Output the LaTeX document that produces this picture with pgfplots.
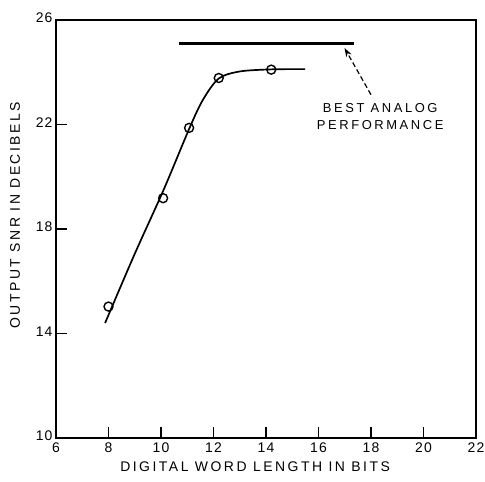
\documentclass[border=0pt]{standalone}
\usepackage{pgfplots}
\pgfplotsset{compat=1.18}
\usepackage{fontspec}
\setmainfont{Liberation Sans}
\newfontfamily\labfont[LetterSpace=18]{Liberation Sans}
\newfontfamily\notefont[LetterSpace=20]{Liberation Sans}
\newfontfamily\tickfont[LetterSpace=8]{Liberation Sans}
\usetikzlibrary{arrows.meta}

\begin{document}
\begin{tikzpicture}
\useasboundingbox (-56bp,-44bp) rectangle (429bp,438bp);
\begin{axis}[
  scale only axis, width=420bp, height=418bp,
  xmin=6, xmax=22, ymin=10, ymax=26,
  xtick={6,8,...,22}, ytick={10,14,18,22,26},
  xtick pos=bottom, ytick pos=left, tick align=inside,
  major tick length=11bp,
  axis line style={line width=1.6pt},
  every tick/.style={line width=1.4pt, black},
  /pgf/number format/assume math mode=true,
  tick label style={font=\fontsize{14}{14}\selectfont\tickfont},
  xticklabel style={yshift=-1bp},
  yticklabel style={yshift=2bp},
  xlabel={DIGITAL WORD LENGTH IN BITS},
  ylabel={OUTPUT SNR IN DECIBELS},
  label style={font=\fontsize{14}{14}\selectfont\labfont},
  xlabel style={at={(axis description cs:0.474,-0.0694)}, anchor=center},
  ylabel style={at={(axis description cs:-0.0976,0.533)}, anchor=center},
]
% best analog performance level
\addplot[line width=2.3pt] coordinates {(10.67,25.1) (17.35,25.1)};
\addplot[dashed, dash pattern=on 5bp off 3bp, line width=1.2pt,
  -{Stealth[length=9bp,width=6bp]}]
  coordinates {(18.0,23.14) (16.99,24.93)};
\node[align=center, font=\fontsize{13}{17}\selectfont\notefont]
  at (axis cs:18.35,22.3) {BEST ANALOG\\PERFORMANCE};

% fitted SNR curve
\addplot[smooth, tension=0.5, line width=1.7pt] coordinates {
  (7.87,14.40) (9.0,17.05) (10.1,19.50) (11.08,21.85) (11.6,22.95)
  (12.2,23.76) (13.0,24.03) (14.2,24.11) (15.49,24.12)
};
% measured points
\addplot[only marks, mark=o, mark size=4.5bp,
  mark options={fill=white, line width=1.4pt}] coordinates {
  (8,15.03) (10.08,19.18) (11.07,21.87) (12.2,23.78) (14.2,24.10)
};
\end{axis}
\end{tikzpicture}
\end{document}
